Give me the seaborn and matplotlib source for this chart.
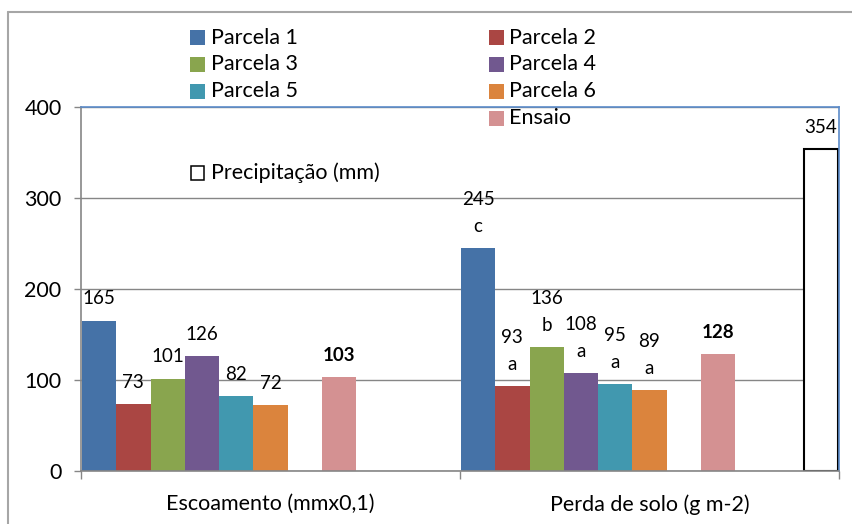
import numpy as np
import pandas as pd
import matplotlib
matplotlib.use("Agg")
import matplotlib.pyplot as plt
from matplotlib.patches import Rectangle
from matplotlib.lines import Line2D
import seaborn as sns

# ---- data ----
categorias = ["Escoamento (mmx0,1)", "Perda de solo (g m-2)"]
series = ["Parcela 1", "Parcela 2", "Parcela 3", "Parcela 4", "Parcela 5",
          "Parcela 6", "vazio 1", "Ensaio", "vazio 2", "vazio 3", "Precipitação (mm)"]
parcela1 = [165, 245]
parcela2 = [73, 93]
parcela3 = [101, 136]
parcela4 = [126, 108]
parcela5 = [82, 95]
parcela6 = [72, 89]
ensaio = [103, 128]
precipitacao = [np.nan, 354]
letras_perda = ["c", "a", "b", "a", "a", "a"]
yticks = [0, 100, 200, 300, 400]

valores = {
    "Parcela 1": parcela1, "Parcela 2": parcela2, "Parcela 3": parcela3,
    "Parcela 4": parcela4, "Parcela 5": parcela5, "Parcela 6": parcela6,
    "Ensaio": ensaio, "Precipitação (mm)": precipitacao,
}
cores = {
    "Parcela 1": "#4572A7", "Parcela 2": "#AA4643", "Parcela 3": "#89A54E",
    "Parcela 4": "#71588F", "Parcela 5": "#4198AF", "Parcela 6": "#DB843D",
    "vazio 1": "#FFFFFF", "Ensaio": "#D49192", "vazio 2": "#FFFFFF",
    "vazio 3": "#FFFFFF", "Precipitação (mm)": "#FFFFFF",
}

rows = []
for s, vals in valores.items():
    for c, v in zip(categorias, vals):
        if not np.isnan(v):
            rows.append({"categoria": c, "serie": s, "valor": v})
df = pd.DataFrame(rows)

W, H = 853, 524
def fx(px): return px / W
def fy(py): return 1 - py / H

sns.set_theme(style="white")
plt.rcParams["font.family"] = ["Lato", "DejaVu Sans"]
plt.rcParams["text.color"] = "black"

fig = plt.figure(figsize=(W / 100, H / 100), dpi=100)
ax = fig.add_axes([fx(81), fy(470.7), fx(839) - fx(81), fy(107.3) - fy(470.7)])

GROUP_W = 0.995
sns.barplot(data=df, x="categoria", y="valor", hue="serie", order=categorias,
            hue_order=series, palette=cores, width=GROUP_W, gap=0, saturation=1,
            errorbar=None, legend=False, ax=ax, linewidth=0)

ax.set_ylim(0, 400)
ax.set_xlim(-0.5, 1.5)
ax.set_yticks(yticks)
ax.yaxis.grid(True, color="#868686", linewidth=1)
ax.set_axisbelow(True)
ax.set_xlabel("")
ax.set_ylabel("")

ax.set_xticks([-0.5, 0.5, 1.5])
ax.set_xticklabels(["", "", ""])
ax.set_xticks([0, 1], minor=True)
ax.set_xticklabels(categorias, minor=True)
ax.tick_params(axis="x", which="major", length=6, width=1, color="#868686", direction="out")
ax.tick_params(axis="x", which="minor", length=0, pad=17, labelsize=15.5,
               labelcolor="black")
ax.tick_params(axis="y", which="major", length=5, width=1, color="#868686",
               direction="out", pad=9, labelsize=15.5, labelcolor="black")
ax.tick_params(bottom=True, left=True)

for side in ["left", "bottom"]:
    ax.spines[side].set_color("#868686")
    ax.spines[side].set_linewidth(1.2)
for side in ["top", "right"]:
    ax.spines[side].set_color("#5B8BC9")
    ax.spines[side].set_linewidth(1.2)
    ax.spines[side].set_visible(True)

# identify each bar's series by its slot position; style + label
px_per_pt = 100 / 72
slot_w = GROUP_W / len(series)
for bar in ax.patches:
    h = bar.get_height()
    if h is None or np.isnan(h) or h <= 0:
        continue
    xc = bar.get_x() + bar.get_width() / 2
    ci = int(round(xc))
    slot = int(round((xc - ci + GROUP_W / 2) / slot_w - 0.5))
    s = series[slot]
    if s == "Precipitação (mm)":
        bar.set_edgecolor("black")
        bar.set_linewidth(1.5)
    bold = s == "Ensaio"
    if ci == 1 and s.startswith("Parcela"):
        idx = int(s.split()[-1]) - 1
        ax.annotate(letras_perda[idx], xy=(xc, h), xytext=(0, 21.5 / px_per_pt),
                    textcoords="offset points", ha="center", va="center",
                    fontsize=13.5, color="black")
        ax.annotate(f"{h:.0f}", xy=(xc, h), xytext=(0, 48.5 / px_per_pt),
                    textcoords="offset points", ha="center", va="center",
                    fontsize=13.5, color="black")
    else:
        ax.annotate(f"{h:.0f}", xy=(xc, h), xytext=(0, 22 / px_per_pt),
                    textcoords="offset points", ha="center", va="center",
                    fontsize=13.5, color="black",
                    fontweight="bold" if bold else "normal")

# legend (row-wise, 2 columns, blank entries kept as in original)
row_y = [37.7, 64.3, 91.0, 118.5, 145.5, 173.0]
hx = [190, 489]
tx = [211.5, 509.5]
for i, s in enumerate(series):
    if s.startswith("vazio"):
        continue
    r, c = divmod(i, 2)
    y = row_y[r]
    if s == "Precipitação (mm)":
        sz = 13.5
        fig.add_artist(Rectangle((fx(hx[c] + 1), fy(y + sz / 2)), sz / W, sz / H,
                                 transform=fig.transFigure, facecolor="white",
                                 edgecolor="black", linewidth=1.1))
    else:
        sz = 15
        fig.add_artist(Rectangle((fx(hx[c]), fy(y + sz / 2)), sz / W, sz / H,
                                 transform=fig.transFigure, facecolor=cores[s],
                                 edgecolor="none"))
    fig.text(fx(tx[c]), fy(y), s, ha="left", va="center", fontsize=15.5,
             color="black")

# outer chart border
fig.add_artist(Line2D([fx(8), fx(853)], [fy(12), fy(12)], transform=fig.transFigure,
                      color="#A6A6A6", linewidth=1.5))
fig.add_artist(Line2D([fx(8), fx(8)], [fy(12), fy(524)], transform=fig.transFigure,
                      color="#A6A6A6", linewidth=1.5))

fig.savefig("out.png", dpi=100)
